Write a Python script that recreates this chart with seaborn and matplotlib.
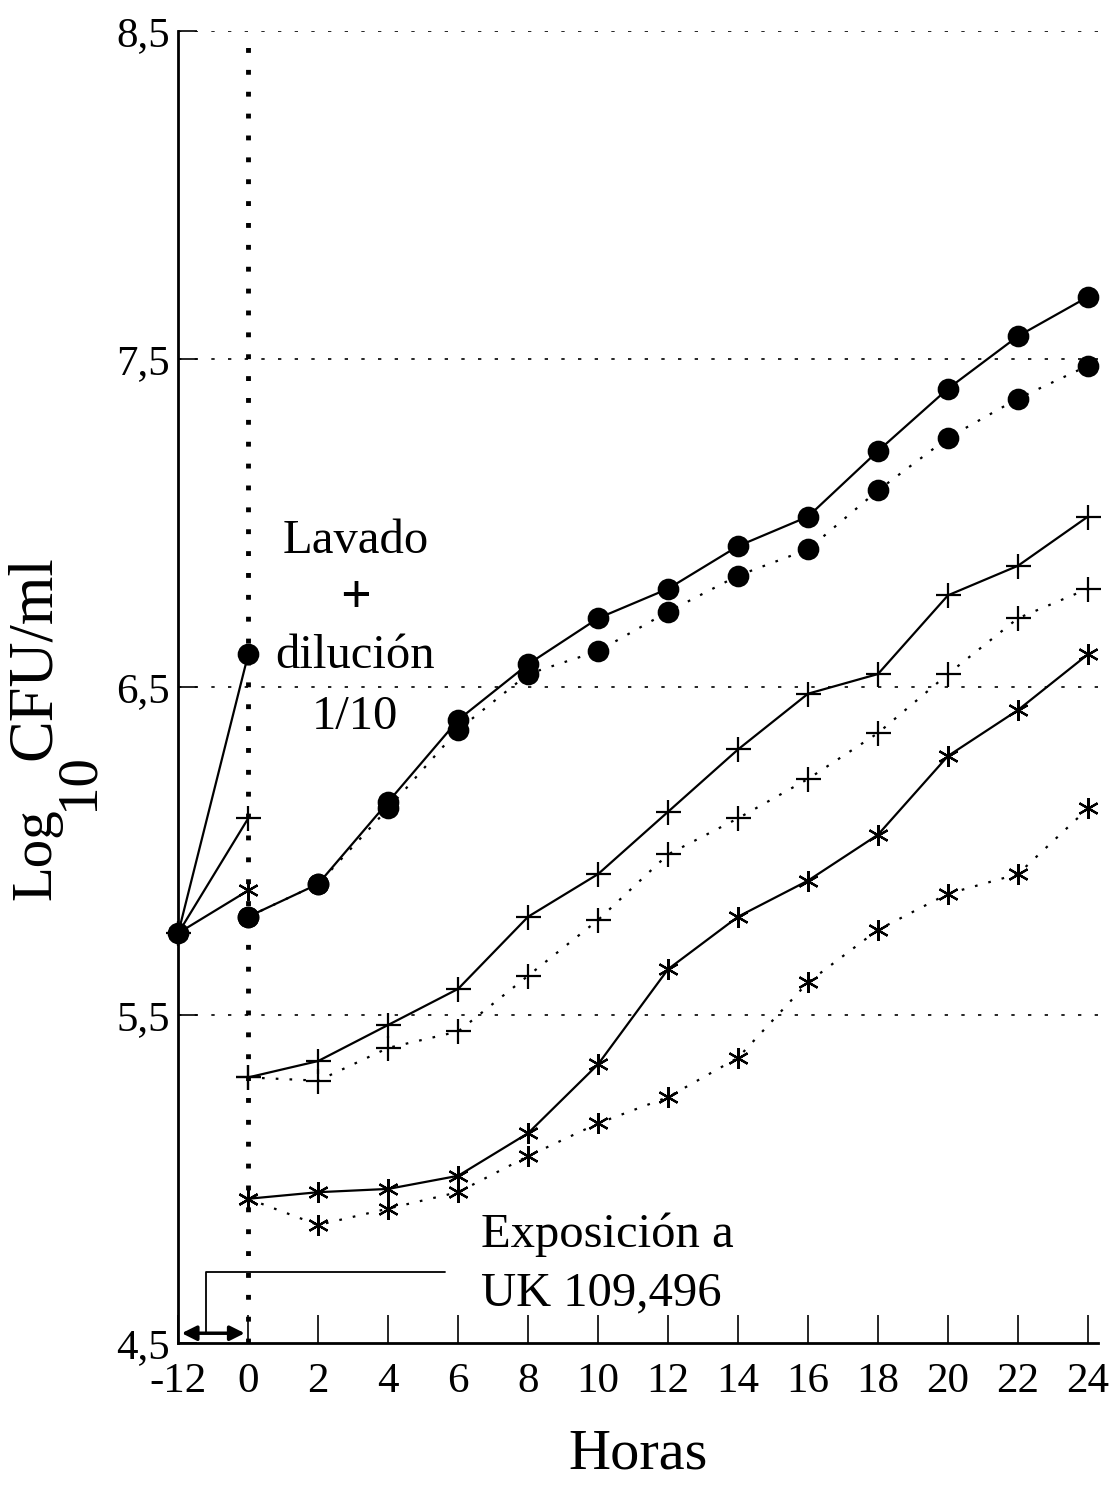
import numpy as np
import pandas as pd
import matplotlib
import matplotlib.pyplot as plt
import seaborn as sns

matplotlib.use("Agg")
sns.set_theme(style="white")
plt.rcParams["font.family"] = ["Liberation Serif", "DejaVu Serif"]
plt.rcParams["text.color"] = "black"
plt.rcParams["axes.labelcolor"] = "black"

# Horas (eje x): -12 es el inoculo, luego cada 2 h
HORAS = [-12, 0, 2, 4, 6, 8, 10, 12, 14, 16, 18, 20, 22, 24]
HORAS_SERIE = HORAS[1:]

# Antes del lavado (-12 h -> 0 h)
PRE_CIRCULO = [5.75, 6.60]
PRE_CRUZ = [5.75, 6.10]
PRE_ASTER = [5.75, 5.88]

# Despues del lavado + dilucion 1/10 (0 .. 24 h): linea continua
CIRCULO_SOL = [5.80, 5.90, 6.15, 6.40, 6.57, 6.71, 6.80, 6.93, 7.02, 7.22, 7.41, 7.57, 7.69]
CRUZ_SOL = [5.31, 5.36, 5.47, 5.58, 5.80, 5.93, 6.12, 6.31, 6.48, 6.54, 6.78, 6.87, 7.02]
ASTER_SOL = [4.94, 4.96, 4.97, 5.01, 5.14, 5.35, 5.64, 5.80, 5.91, 6.05, 6.29, 6.43, 6.60]

# linea punteada
CIRCULO_PUN = [5.80, 5.90, 6.13, 6.37, 6.54, 6.61, 6.73, 6.84, 6.92, 7.10, 7.26, 7.38, 7.48]
CRUZ_PUN = [5.31, 5.30, 5.40, 5.45, 5.62, 5.79, 5.99, 6.10, 6.22, 6.36, 6.54, 6.71, 6.80]
ASTER_PUN = [4.94, 4.86, 4.91, 4.96, 5.07, 5.17, 5.25, 5.37, 5.60, 5.76, 5.87, 5.93, 6.13]

Y_TICKS = [4.5, 5.5, 6.5, 7.5, 8.5]


def pos(h):
    # escala del eje: -12 h ocupa un paso, el resto cada 2 h
    h = np.asarray(h, dtype=float)
    return np.where(h < 0, -1.0, h / 2.0)


ASTER = (6, 2, 0)
PUNTOS = (0, (1.2, 5))
W, H = 1114, 1487

fig = plt.figure(figsize=(W / 100, H / 100), dpi=100)
ax = fig.add_axes([0.160, 0.0968, 0.826, 0.8822])

estilos = [
    (PRE_CIRCULO, HORAS[:2], "o", "-", 14),
    (PRE_CRUZ, HORAS[:2], "+", "-", 18),
    (PRE_ASTER, HORAS[:2], ASTER, "-", 15),
    (CIRCULO_SOL, HORAS_SERIE, "o", "-", 14),
    (CRUZ_SOL, HORAS_SERIE, "+", "-", 18),
    (ASTER_SOL, HORAS_SERIE, ASTER, "-", 15),
    (CIRCULO_PUN, HORAS_SERIE, "o", PUNTOS, 14),
    (CRUZ_PUN, HORAS_SERIE, "+", PUNTOS, 18),
    (ASTER_PUN, HORAS_SERIE, ASTER, PUNTOS, 15),
]
for vals, hrs, mk, ls, ms in estilos:
    df = pd.DataFrame({"x": pos(hrs), "y": vals})
    sns.lineplot(data=df, x="x", y="y", ax=ax, color="black", marker=mk,
                 markersize=ms, linestyle=ls, linewidth=1.6,
                 markeredgewidth=1.6, markeredgecolor="black",
                 markerfacecolor="black", sort=False, estimator=None,
                 zorder=3, clip_on=False)

# lineas de referencia
for yv in Y_TICKS[1:]:
    ax.axhline(yv, color="black", linestyle=(0, (2, 8)), linewidth=1.2, zorder=1)
ax.plot([0, 0], [4.5, 8.5], color="black", linestyle=(0, (1, 3.5)),
        linewidth=3.5, zorder=1, clip_on=False)

ax.set_xlim(-1, 12.15)
ax.set_ylim(4.5, 8.5)
ax.set_xticks(pos(HORAS))
ax.set_xticklabels([str(h) for h in HORAS])
ax.set_yticks(Y_TICKS)
ax.set_yticklabels([f"{v:.1f}".replace(".", ",") for v in Y_TICKS])
ax.tick_params(axis="x", direction="in", length=20, width=1.2, labelsize=31,
               pad=14, colors="black", bottom=True)
ax.tick_params(axis="y", direction="in", length=14, width=1.2, labelsize=31,
               pad=6, colors="black", left=True)
for s in ["top", "right"]:
    ax.spines[s].set_visible(False)
for s in ["left", "bottom"]:
    ax.spines[s].set_color("black")
    ax.spines[s].set_linewidth(2)

ax.set_xlabel("Horas", fontsize=42, labelpad=20)
ax.set_ylabel("")

# titulo del eje y: Log con subindice 10 a tamano casi completo
kw = dict(rotation=90, rotation_mode="anchor", ha="left", va="baseline")
fig.text(50 / W, 1 - 900 / H, "Log", fontsize=41, **kw)
fig.text(92 / W, 1 - 810 / H, "10", fontsize=41, **kw)
fig.text(50 / W, 1 - 760 / H, "CFU/ml", fontsize=45, **kw)

# anotaciones
fs = 35
ax.text(1.53, 6.945, "Lavado", fontsize=fs, ha="center", va="center")
ax.text(1.53, 6.77, "+", fontsize=fs + 4, fontweight="bold", ha="center", va="center")
ax.text(1.53, 6.595, "dilución", fontsize=fs, ha="center", va="center")
ax.text(1.53, 6.41, "1/10", fontsize=fs, ha="center", va="center")
ax.text(3.33, 4.83, "Exposición a", fontsize=fs, ha="left", va="center")
ax.text(3.33, 4.65, "UK 109,496", fontsize=fs, ha="left", va="center")

ax.plot([-0.6, -0.6, 2.81], [4.53, 4.716, 4.716], color="black", linewidth=1.3)
ax.annotate("", xy=(-0.95, 4.53), xytext=(-0.05, 4.53),
            arrowprops=dict(arrowstyle="<|-|>", color="black", lw=2.5,
                            mutation_scale=22, shrinkA=0, shrinkB=0))

fig.savefig("out.png", dpi=100, facecolor="white")
